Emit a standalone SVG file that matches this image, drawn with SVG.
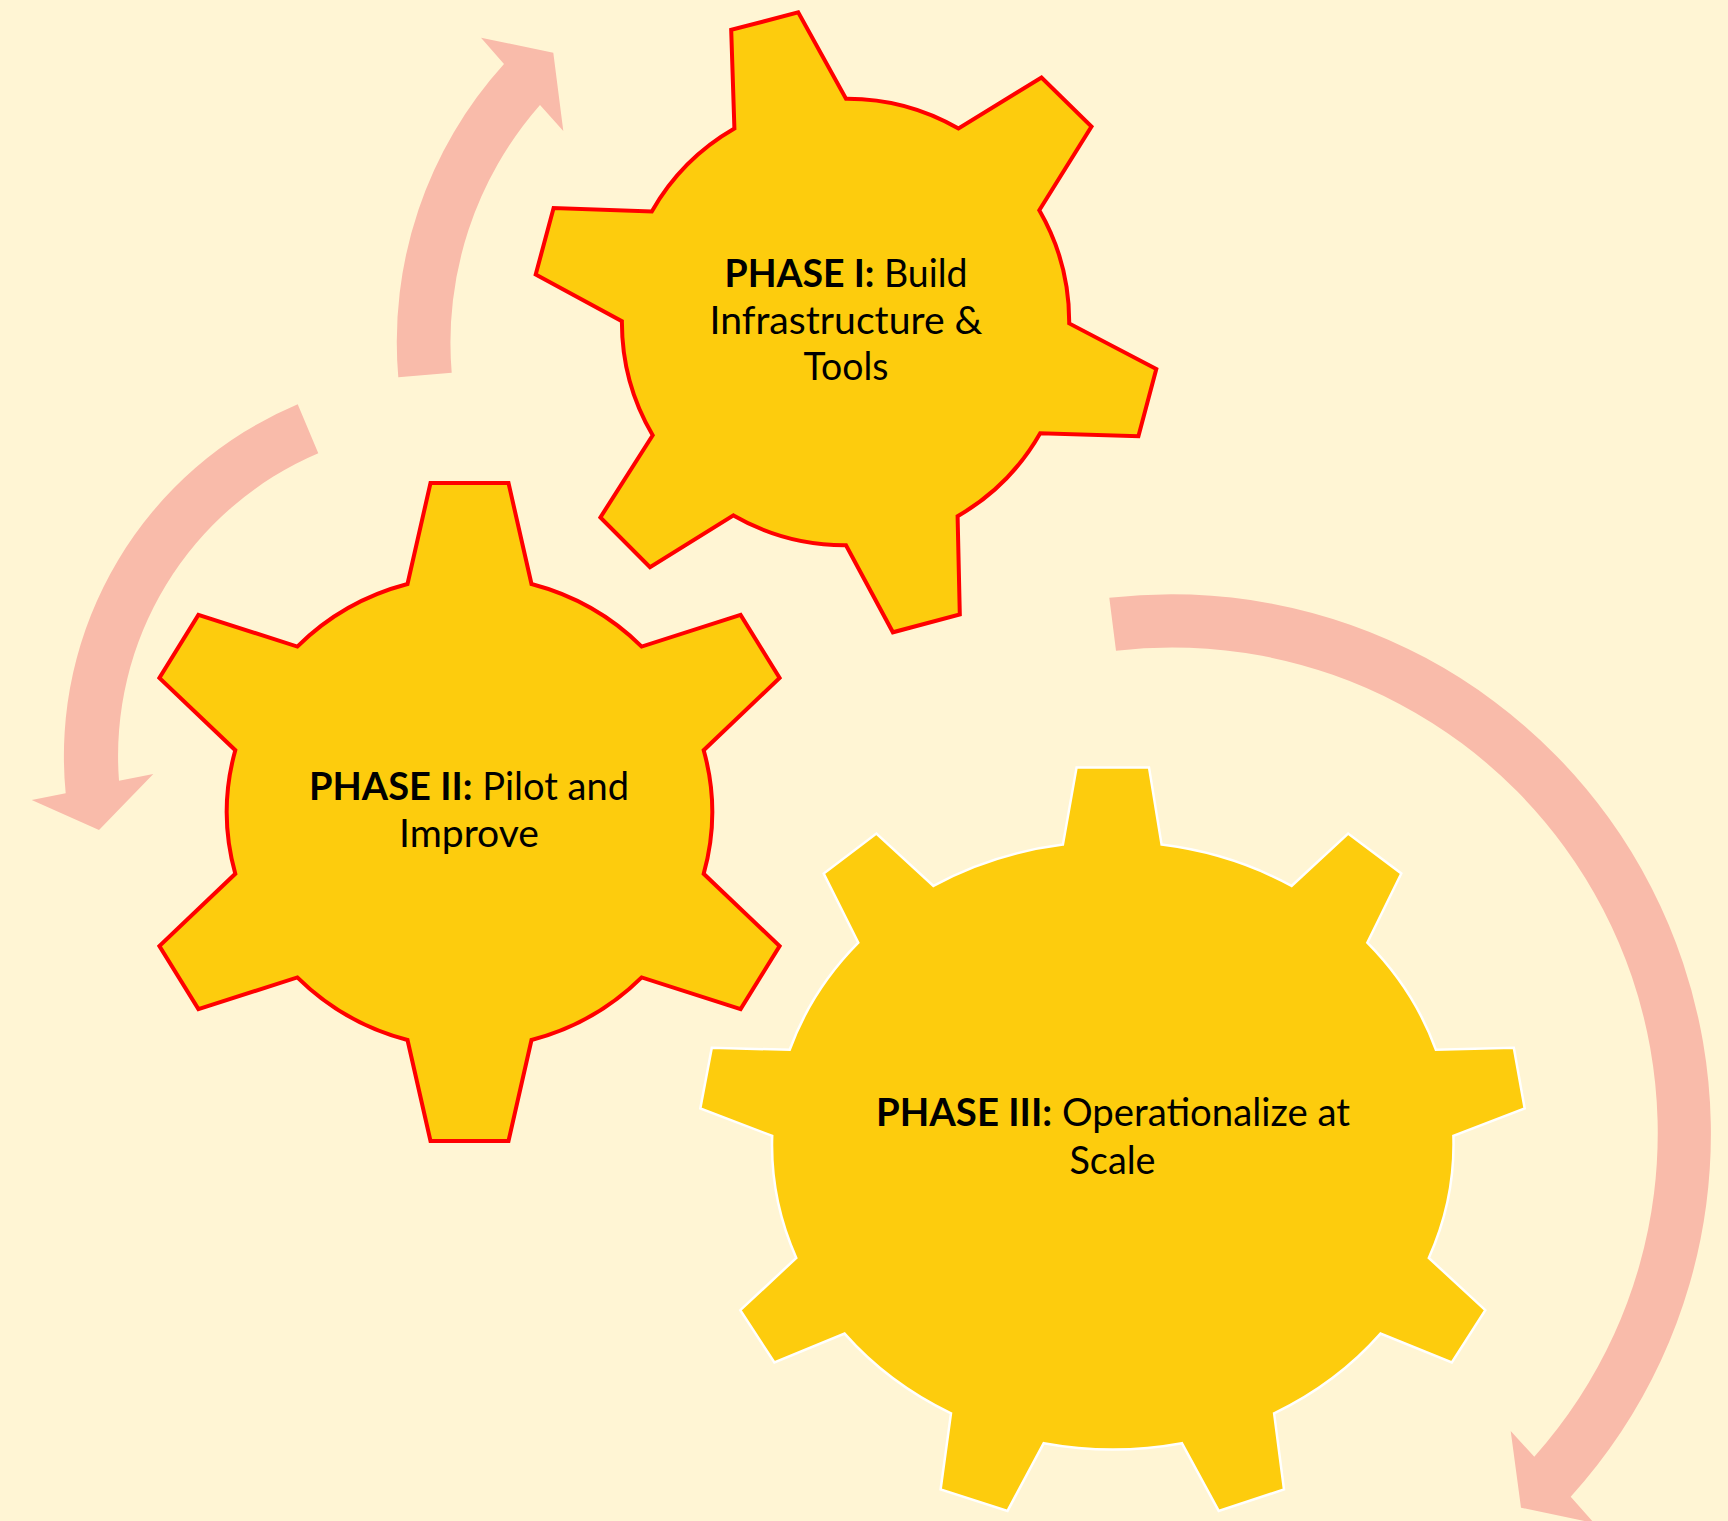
<svg xmlns="http://www.w3.org/2000/svg" width="1728" height="1521" viewBox="0 0 1728 1521">
<style>
.bg{fill:#FFF5D4}
.arrow{fill:#F9BBAA;stroke:none}
.gear{fill:#FDCC0D;stroke-linejoin:miter}
.red{stroke:#FF0000;stroke-width:4}
.white{stroke:#FFFFFF;stroke-width:2.5}
.t{font-family:Lato,"Open Sans","Liberation Sans",sans-serif;font-size:38px;fill:#000;text-anchor:middle}
.b{font-weight:bold}
</style>
<rect class="bg" x="0" y="0" width="1728" height="1521"/>
<g id="connectors">
<path class="arrow" d="M 398.3,377.3 A 413.5 413.5 0 0 1 504,64 L 481,37.7 L 553.3,52.7 L 563.3,131 L 540,105 A 360 360 0 0 0 451.7,372.7 Z"/>
<path class="arrow" d="M 297.7,404.3 A 381.8 381.8 0 0 0 65.7,793.3 L 31.7,800 L 99,830 L 153.3,774 L 119,780.7 A 328.8 328.8 0 0 1 318.3,453.3 Z"/>
<path class="arrow" d="M 1109.3,597.7 A 539.7 539.7 0 0 1 1570.7,1496.7 L 1594,1523 L 1521,1507.7 L 1510.7,1431 L 1534.3,1456.7 A 485.7 485.7 0 0 0 1116,650.7 Z"/>
</g>
<g id="gear1">
<path class="gear red" d="M 734.4,128.5 L 731.2,29.9 L 798.2,12.4 L 846,98.7 A 223 223 0 0 1 958.5,128.5 L 1041.5,77.5 L 1091.5,126.5 L 1039.3,210.2 A 223 223 0 0 1 1069.2,323.4 L 1156.3,369 L 1138.4,436.2 L 1040.2,433.3 A 223 223 0 0 1 957.6,516.2 L 959.8,614.4 L 892.9,632.3 L 846,545.2 A 223 223 0 0 1 733.5,515.4 L 650,567.2 L 600.4,517.4 L 652.7,435.3 A 223 223 0 0 1 621.9,321.3 L 535.7,274.5 L 553.6,208.1 L 651.8,211.4 A 223 223 0 0 1 734.4,128.5 Z"/>
<text class="t" x="846" y="287" textLength="243" lengthAdjust="spacingAndGlyphs"><tspan class="b">PHASE I:</tspan> Build</text>
<text class="t" x="846" y="333.5" textLength="273" lengthAdjust="spacingAndGlyphs">Infrastructure &amp;</text>
<text class="t" x="846" y="380" textLength="85" lengthAdjust="spacingAndGlyphs">Tools</text>
</g>
<g id="gear2">
<path class="gear red" d="M 407.5,584 L 430.5,483 L 508.5,483 L 531.5,584 A 243 236 0 0 1 641.7,646.6 L 740.6,614.9 L 779.6,677.9 L 703.7,750.2 A 243 236 0 0 1 703.7,873.8 L 779.6,946.1 L 740.6,1009.1 L 641.7,977.4 A 243 236 0 0 1 531.5,1040 L 508.5,1141 L 430.5,1141 L 407.5,1040 A 243 236 0 0 1 297.3,977.4 L 198.4,1009.1 L 159.4,946.1 L 235.3,873.8 A 243 236 0 0 1 235.3,750.2 L 159.4,677.9 L 198.4,614.9 L 297.3,646.6 A 243 236 0 0 1 407.5,584 Z"/>
<text class="t" x="469" y="799.5" textLength="320" lengthAdjust="spacingAndGlyphs"><tspan class="b">PHASE II:</tspan> Pilot and</text>
<text class="t" x="469" y="847" textLength="140" lengthAdjust="spacingAndGlyphs">Improve</text>
</g>
<g id="gear3">
<path class="gear white" d="M 1062.9,844.6 L 1076.6,767.4 L 1149,767.4 L 1161.6,844.6 A 341 304 0 0 1 1291.6,885.9 L 1348.1,833.6 L 1401.3,873.5 L 1367.3,942.7 A 341 304 0 0 1 1435.9,1049.8 L 1513.8,1047.8 L 1524.7,1108.5 L 1453.4,1135.9 A 341 304 0 0 1 1428.8,1257.9 L 1485.3,1310.2 L 1451.8,1362.5 L 1380.5,1333.6 A 341 304 0 0 1 1274.1,1413.3 L 1284,1489.5 L 1218.7,1510.9 L 1181.9,1443.2 A 341 304 0 0 1 1043.7,1443.2 L 1007.5,1510.9 L 940.6,1489.5 L 951,1413.3 A 341 304 0 0 1 844.6,1333.6 L 774.4,1362.5 L 740.3,1310.2 L 796.3,1257.9 A 341 304 0 0 1 772.2,1135.9 L 700.3,1108.5 L 711.8,1047.8 L 789.7,1049.8 A 341 304 0 0 1 858.3,942.7 L 823.7,873.5 L 876.4,833.6 L 933.4,885.9 A 341 304 0 0 1 1062.9,844.6 Z"/>
<text class="t" x="1113" y="1126" textLength="474" lengthAdjust="spacingAndGlyphs"><tspan class="b">PHASE III:</tspan> Operationalize at</text>
<text class="t" x="1112.5" y="1173.5" textLength="86" lengthAdjust="spacingAndGlyphs">Scale</text>
</g>
</svg>
